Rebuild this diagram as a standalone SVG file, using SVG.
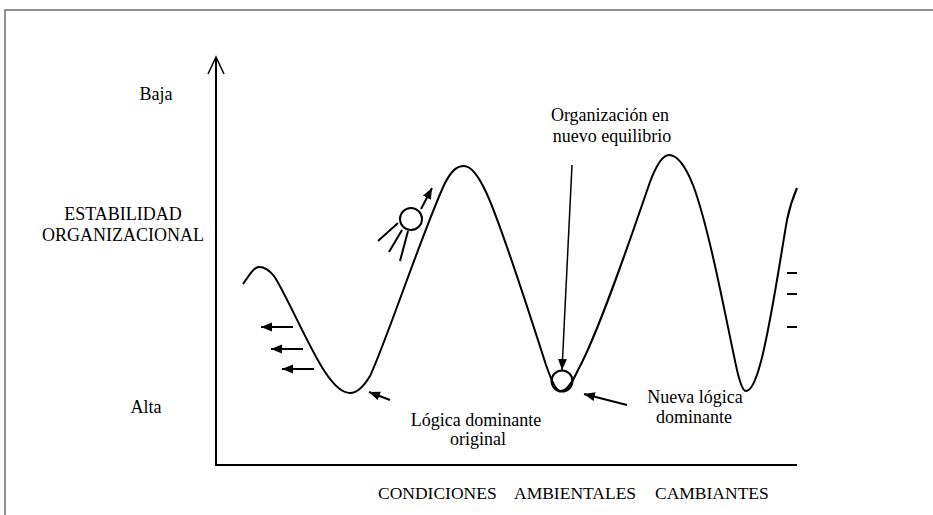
<svg xmlns="http://www.w3.org/2000/svg" width="933" height="515" viewBox="0 0 933 515">
<style>
.t{font-family:"Liberation Serif","Times New Roman",serif;font-size:18px;fill:#000}
.c{text-anchor:middle}
.ln{stroke:#000;stroke-width:2;fill:none}
.thin{stroke:#000;stroke-width:1.5;fill:none}
.frame{stroke:#6e6e6e;stroke-width:1.5;fill:none}
</style>
<defs>
<marker id="ah" markerUnits="userSpaceOnUse" markerWidth="12" markerHeight="10" refX="11" refY="4.5" orient="auto">
<path d="M0,0 L11,4.5 L0,9 z" fill="#000"/>
</marker>
</defs>
<rect width="933" height="515" fill="#fff"/>
<g id="frame">
<polyline class="frame" points="5,515 5,10 933,10"/>
</g>
<g id="axes">
<line class="ln" x1="216" y1="465" x2="216" y2="58"/>
<polyline class="thin" points="208,74 216,57 224,74"/>
<line class="ln" x1="215" y1="465" x2="797" y2="465"/>
</g>
<g id="curve">
<path class="ln" d="M243,284 C250,274 254,267 259,267 C265,267 270,271 274,276 C285,292 310,350 325,372 C335,387 343,393 350,393 C358,393 364,386 370,376 C385,345 425,225 445,183 C452,170 457,166 464,166 C471,166 478,175 486,192 C500,222 530,315 546,365 C552,382 556,391 561,391 C567,391 572,383 578,370 C600,330 635,225 650,182 C656,166 662,155 669,155 C677,155 685,165 693,185 C710,230 728,330 737,370 C740,383 743,391 746,391 C750,391 755,383 760,365 C770,330 780,260 787,220 C790,205 794,195 797,188"/>
<line class="ln" x1="787" y1="273" x2="797" y2="273"/>
<line class="ln" x1="787" y1="294" x2="797" y2="294"/>
<line class="ln" x1="787" y1="327" x2="797" y2="327"/>
</g>
<g id="ball-climbing">
<circle class="ln" cx="411" cy="219" r="11"/>
<line class="ln" x1="398" y1="223" x2="378" y2="241"/>
<line class="ln" x1="402" y1="230" x2="389" y2="252"/>
<line class="ln" x1="408" y1="231" x2="400" y2="261"/>
</g>
<g id="ball-equilibrium">
<circle class="ln" cx="562" cy="381" r="10.5"/>
</g>
<g id="connectors">
<line class="ln" x1="293" y1="327" x2="261" y2="327" marker-end="url(#ah)"/>
<line class="ln" x1="303" y1="349" x2="271" y2="349" marker-end="url(#ah)"/>
<line class="ln" x1="314" y1="369" x2="282" y2="369" marker-end="url(#ah)"/>
<line class="ln" x1="421" y1="209" x2="432" y2="188" marker-end="url(#ah)"/>
<line class="ln" x1="390" y1="400" x2="369" y2="392" marker-end="url(#ah)"/>
<line class="thin" x1="572" y1="165" x2="562" y2="370" marker-end="url(#ah)"/>
<line class="ln" x1="627" y1="405" x2="584" y2="394" marker-end="url(#ah)"/>
</g>
<g id="label-baja"><text class="t c" x="156" y="100">Baja</text></g>
<g id="label-estabilidad">
<text class="t c" x="123" y="220">ESTABILIDAD</text>
<text class="t c" x="123" y="241">ORGANIZACIONAL</text>
</g>
<g id="label-alta"><text class="t c" x="146" y="413">Alta</text></g>
<g id="label-equilibrio">
<text class="t c" x="610" y="121">Organización en</text>
<text class="t c" x="612" y="142">nuevo equilibrio</text>
</g>
<g id="label-original">
<text class="t c" x="476" y="426">Lógica dominante</text>
<text class="t c" x="478" y="445">original</text>
</g>
<g id="label-nueva">
<text class="t c" x="695" y="403">Nueva lógica</text>
<text class="t c" x="694" y="423">dominante</text>
</g>
<g id="label-x">
<text class="t" style="font-size:17.5px" y="499"><tspan x="378">CONDICIONES</tspan><tspan x="514">AMBIENTALES</tspan><tspan x="655">CAMBIANTES</tspan></text>
</g>
</svg>
